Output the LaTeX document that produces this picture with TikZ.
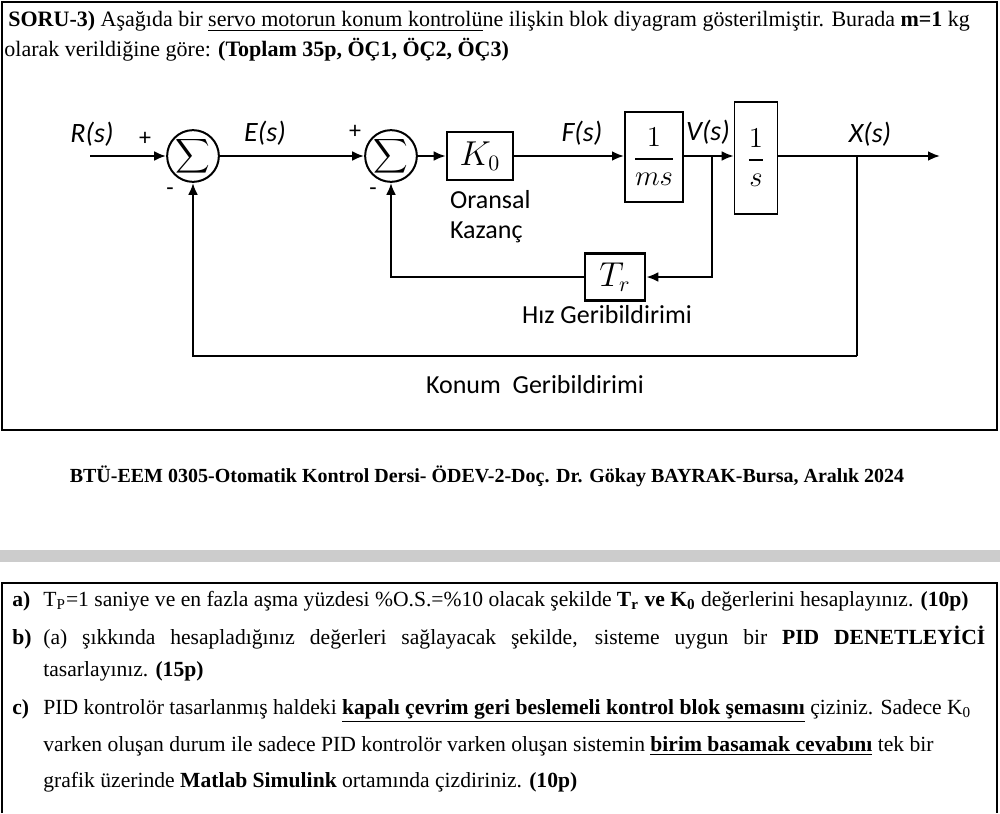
\documentclass[tikz,border=0pt]{standalone}
\usepackage{amsmath}
\usepackage{fontspec}
\setmainfont{Liberation Serif}
\newfontfamily\diagfont{Carlito}
\usetikzlibrary{arrows.meta,positioning}

\tikzset{
  block/.style={draw, line width=1.3pt, inner sep=2pt, font=\fontsize{16}{18}\selectfont},
  sumnode/.style={draw, circle, line width=1pt, minimum size=24pt, inner sep=0pt, font=\fontsize{13}{13}\selectfont},
  sig/.style={-{Latex[length=6pt,width=5pt]}, line width=1.4pt},
  wire/.style={line width=1.4pt},
  sigtext/.style={font=\diagfont\itshape\fontsize{14}{16}\selectfont},
  signtext/.style={font=\diagfont\fontsize{12}{14}\selectfont},
  captext/.style={font=\diagfont\fontsize{13}{15}\selectfont},
  doctext/.style={anchor=base west, inner sep=0pt, font=\fontsize{11}{13}\selectfont},
  itemtext/.style={anchor=base west, inner sep=0pt, font=\fontsize{10.8}{13}\selectfont}
}

\begin{document}
\begin{tikzpicture}[x=0.5pt, y=-0.5pt]
  \useasboundingbox (0,0) rectangle (1000,813);

  % Soru metni
  \draw[line width=0.8pt] (2,2) rectangle (997,430);
  \node[doctext] (q1) at (8,27) {\textbf{SORU-3)} Aşağıda bir \underline{servo motorun konum kontrolü}ne ilişkin blok diyagram gösterilmiştir. Burada \textbf{m=1} kg};
  \node[doctext] (q2) at (4,57) {olarak verildiğine göre: \textbf{(Toplam 35p, ÖÇ1, ÖÇ2, ÖÇ3)}};

  % Bloklar
  \node[sumnode] (sum1) at (193,156) {$\displaystyle\sum$};
  \node[sumnode] (sum2) at (391,156) {$\displaystyle\sum$};
  \node[block, minimum width=33pt, minimum height=24pt] (K0) at (480,156) {$K_0$};
  \node[block, minimum width=29pt, minimum height=45pt, line width=1pt, font=\fontsize{14}{16}\selectfont] (G1) at (654,157) {$\dfrac{1}{ms}$};
  \node[block, minimum width=21.5pt, minimum height=56pt, line width=0.8pt, font=\fontsize{14}{16}\selectfont] (G2) at (756,158) {$\dfrac{1}{s}$};
  \node[block, minimum width=30pt, minimum height=23.5pt] (Tr) at (615,277) {$T_r$};

  \coordinate (in) at (90,156);
  \coordinate (out) at (940,156);
  \coordinate (vb) at (712,156);
  \coordinate (xb) at (857,156);
  \coordinate (fb) at (857,356);

  % Ileri yol
  \draw[sig] (in) -- (sum1);
  \draw[sig] (sum1) -- (sum2);
  \draw[sig] (sum2) -- (K0);
  \draw[sig] (K0) -- (K0 -| G1.west);
  \draw[sig] (vb -| G1.east) -- (vb -| G2.west);
  \draw[sig] (vb -| G2.east) -- (out);

  % Geri besleme
  \draw[sig] (vb) |- (Tr);
  \draw[sig] (Tr) -| (sum2);
  \draw[wire] (xb) -- (fb);
  \draw[sig] (fb) -| (sum1);

  % Etiketler
  \node[sigtext] (Rs) at (92,134) {R(s)};
  \node[sigtext] (Es) at (265,133) {E(s)};
  \node[sigtext] (Fs) at (582,133) {F(s)};
  \node[sigtext] (Vs) at (708,132) {V(s)};
  \node[sigtext] (Xs) at (870,134) {X(s)};
  \node[signtext] (p1) at (145,139) {+};
  \node[signtext] (m1) at (170,192) {-};
  \node[signtext] (p2) at (355,132) {+};
  \node[signtext] (m2) at (373,192) {-};
  \node[captext, anchor=west] (ora) at (443,200) {Oransal};
  \node[captext, anchor=west] (kaz) at (443,232) {Kazanç};
  \node[captext] (hiz) at (607,315) {Hız Geribildirimi};
  \node[captext] (kon) at (535,385) {Konum~ Geribildirimi};

  % Alt bilgi
  \node[font=\bfseries\fontsize{10}{12}\selectfont, inner sep=0pt] (foot) at (487,476) {BTÜ-EEM 0305-Otomatik Kontrol Dersi- ÖDEV-2-Doç. Dr. Gökay BAYRAK-Bursa, Aralık 2024};
  \fill[black!20] (0,550) rectangle (1000,562);

  % Sorular
  \draw[line width=0.8pt] (2,813) -- (2,583) -- (997,583) -- (997,813);
  \node[itemtext] (la) at (12,606) {\textbf{a)}};
  \node[itemtext] (ta) at (43,606) {T\textsubscript{P}=1 saniye ve en fazla aşma yüzdesi \%O.S.=\%10 olacak şekilde \textbf{T\textsubscript{r} ve K\textsubscript{0}} değerlerini hesaplayınız. \textbf{(10p)}};
  \node[itemtext] (lb) at (12,644) {\textbf{b)}};
  \node[itemtext] (tb1) at (43,644) {\makebox[471pt][s]{(a) şıkkında hesapladığınız değerleri sağlayacak şekilde, sisteme uygun bir \textbf{PID DENETLEYİCİ}}};
  \node[itemtext] (tb2) at (43,676) {tasarlayınız. \textbf{(15p)}};
  \node[itemtext] (lc) at (12,714) {\textbf{c)}};
  \node[itemtext] (tc1) at (43,714) {PID kontrolör tasarlanmış haldeki \textbf{\underline{kapalı çevrim geri beslemeli kontrol blok şemasını}} çiziniz. Sadece K\textsubscript{0}};
  \node[itemtext] (tc2) at (43,751) {varken oluşan durum ile sadece PID kontrolör varken oluşan sistemin \textbf{\underline{birim basamak cevabını}} tek bir};
  \node[itemtext] (tc3) at (43,787) {grafik üzerinde \textbf{Matlab Simulink} ortamında çizdiriniz. \textbf{(10p)}};
\end{tikzpicture}
\end{document}
